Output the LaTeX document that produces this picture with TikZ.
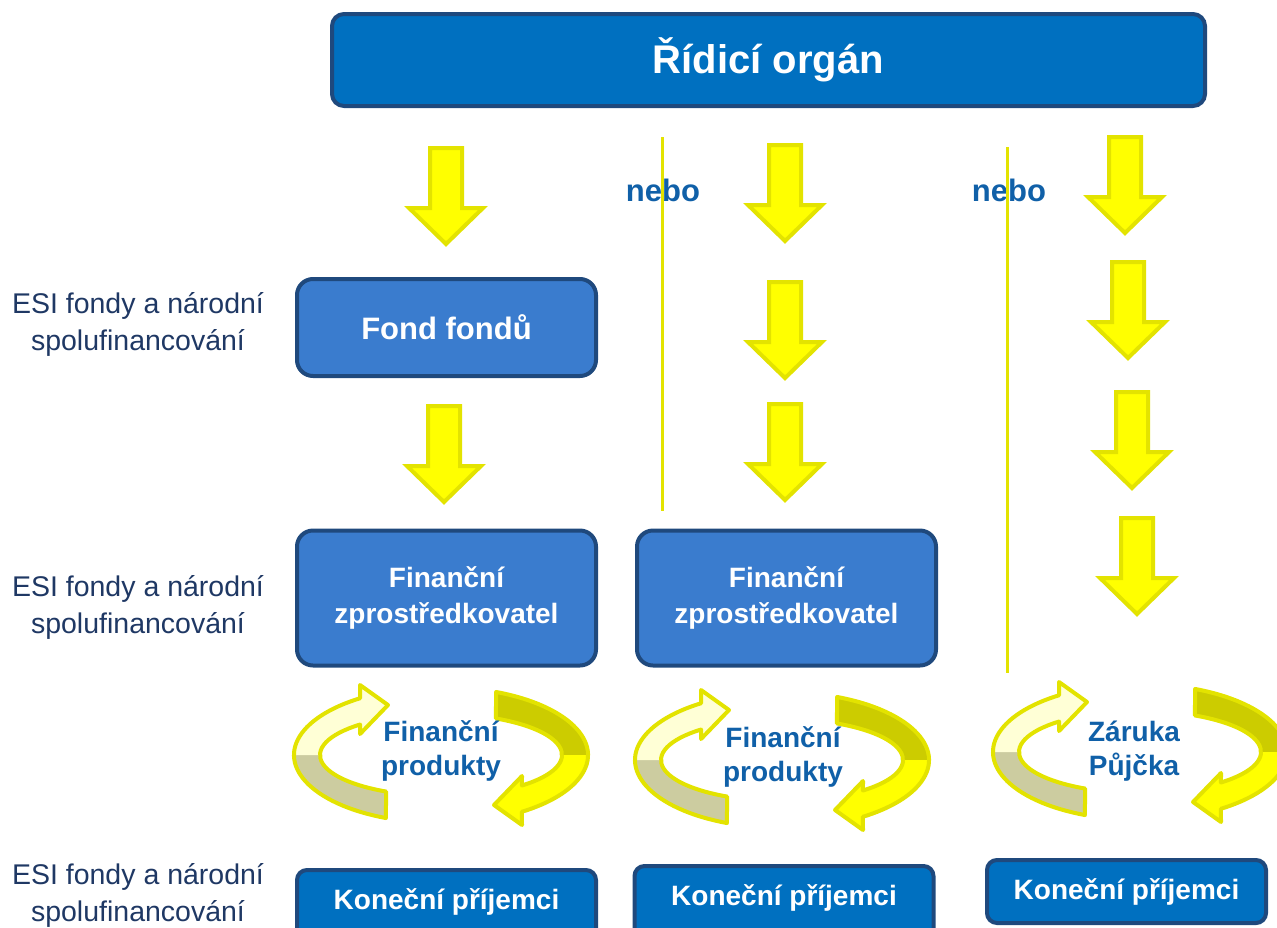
\documentclass[tikz,border=0pt]{standalone}
\usepackage{fontspec}
\setmainfont{Liberation Sans}
\usetikzlibrary{positioning}

\definecolor{orgblue}{HTML}{0070C0}
\definecolor{midblue}{RGB}{58,124,206}
\definecolor{edgeblue}{HTML}{1F497D}
\definecolor{navytext}{HTML}{1F3864}
\definecolor{labelblue}{HTML}{1060A8}
\definecolor{arrowfill}{HTML}{FFFF00}
\definecolor{arrowedge}{HTML}{E3E300}
\definecolor{palefill}{HTML}{FFFFD6}
\definecolor{khaki}{HTML}{CCCCA0}
\definecolor{oliveband}{HTML}{CCCC00}

\tikzset{
  boxbase/.style={draw=edgeblue, line width=4pt, text=white, align=center,
    inner sep=0pt, font=\bfseries\fontsize{28}{36}\selectfont},
  topbox/.style={boxbase, fill=orgblue, rounded corners=12pt, minimum width=873,
    minimum height=92, font=\bfseries\fontsize{40}{44}\selectfont},
  midbox/.style={boxbase, fill=midblue, rounded corners=16pt, minimum width=299},
  endbox/.style={boxbase, fill=orgblue, rounded corners=10pt, minimum width=299},
  sidetext/.style={text=navytext, align=center, font=\fontsize{28.5}{37}\selectfont},
  nebotext/.style={text=labelblue, font=\bfseries\fontsize{31}{34}\selectfont},
  cycletext/.style={text=labelblue, align=center, font=\bfseries\fontsize{28}{34}\selectfont},
  sepline/.style={draw=arrowedge, line width=3pt},
  yarrow/.style={fill=arrowfill, draw=arrowedge, line width=4pt},
  loopedge/.style={draw=arrowedge, line width=4pt, line join=round},
  downarr/.pic={
    \filldraw[yarrow] (-16,2) -- (16,2) -- (16,62) -- (37,62) -- (0,98)
      -- (-37,62) -- (-16,62) -- cycle;
  },
  loopband/.pic={
    % left arrow: lower back part, upper front part
    \fill[khaki] (112:147 and 68) arc[start angle=112, end angle=180, x radius=147, y radius=68]
      -- (180:121 and 41) arc[start angle=180, end angle=117, x radius=121, y radius=41] -- cycle;
    \fill[palefill] (180:147 and 68) arc[start angle=180, end angle=236.6, x radius=147, y radius=68]
      -- (-81,-70) -- (-53,-50) -- (-81,-21) -- (228:121 and 41)
      arc[start angle=228, end angle=180, x radius=121, y radius=41] -- cycle;
    \draw[loopedge] (112:147 and 68) arc[start angle=112, end angle=236.6, x radius=147, y radius=68]
      -- (-81,-70) -- (-53,-50) -- (-81,-21) -- (228:121 and 41)
      arc[start angle=228, end angle=117, x radius=121, y radius=41] -- cycle;
    % right arrow: upper back part, lower front part
    \fill[oliveband] (292:147 and 68) arc[start angle=292, end angle=360, x radius=147, y radius=68]
      -- (0:121 and 41) arc[start angle=360, end angle=297, x radius=121, y radius=41] -- cycle;
    \fill[arrowfill] (0:147 and 68) arc[start angle=0, end angle=56.6, x radius=147, y radius=68]
      -- (81,70) -- (53,50) -- (81,21) -- (48:121 and 41)
      arc[start angle=48, end angle=0, x radius=121, y radius=41] -- cycle;
    \draw[loopedge] (292:147 and 68) arc[start angle=292, end angle=416.6, x radius=147, y radius=68]
      -- (81,70) -- (53,50) -- (81,21) -- (48:121 and 41)
      arc[start angle=408, end angle=297, x radius=121, y radius=41] -- cycle;
  }
}

\begin{document}
\begin{tikzpicture}[x=1pt, y=-1pt]
  \clip (0,0) rectangle (1277,927);

  % boxes
  \node[topbox] (ro) at (768.5,60) {Řídicí orgán};
  \node[midbox, minimum height=97, font=\bfseries\fontsize{31}{36}\selectfont] (ff) at (446.5,327.5) {Fond fondů};
  \node[midbox, minimum height=135] (fz1) at (446.5,598) {Finanční\\zprostředkovatel};
  \node[midbox, minimum height=135] (fz2) at (786.5,598) {Finanční\\zprostředkovatel};
  \node[endbox, anchor=north, text height=39pt, text depth=40pt] (kp1) at (446.5,868) {Koneční příjemci};
  \node[endbox, anchor=north, text height=39pt, text depth=40pt] (kp2) at (784,864) {Koneční příjemci};
  \node[endbox, minimum width=279, minimum height=63] (kp3) at (1126.5,891.5) {Koneční příjemci};

  % side labels
  \node[sidetext] (esi1) at (138,324) {ESI fondy a národní\\spolufinancování};
  \node[sidetext] (esi2) at (138,607) {ESI fondy a národní\\spolufinancování};
  \node[sidetext] (esi3) at (138,895) {ESI fondy a národní\\spolufinancování};

  % alternatives
  \node[nebotext] (nebo1) at (663,190) {nebo};
  \node[nebotext] (nebo2) at (1009,190) {nebo};
  \draw[sepline] (662,137) -- (662,511);
  \draw[sepline] (1007,147) -- (1007,673);

  % flow arrows
  \pic at (446,146) {downarr};
  \pic at (444,404) {downarr};
  \foreach \ytop in {143,280,402}
    \pic at (785,\ytop) {downarr};
  \pic at (1125,135) {downarr};
  \pic at (1128,260) {downarr};
  \pic at (1132,390) {downarr};
  \pic at (1137,516) {downarr};

  % product cycles
  \pic at (441,755) {loopband};
  \pic at (782,760) {loopband};
  \pic at (1140,752) {loopband};
  \node[cycletext] (fp1) at (441,751) {Finanční\\produkty};
  \node[cycletext] (fp2) at (783,757) {Finanční\\produkty};
  \node[cycletext] (zp) at (1134,751) {Záruka\\Půjčka};
\end{tikzpicture}
\end{document}
